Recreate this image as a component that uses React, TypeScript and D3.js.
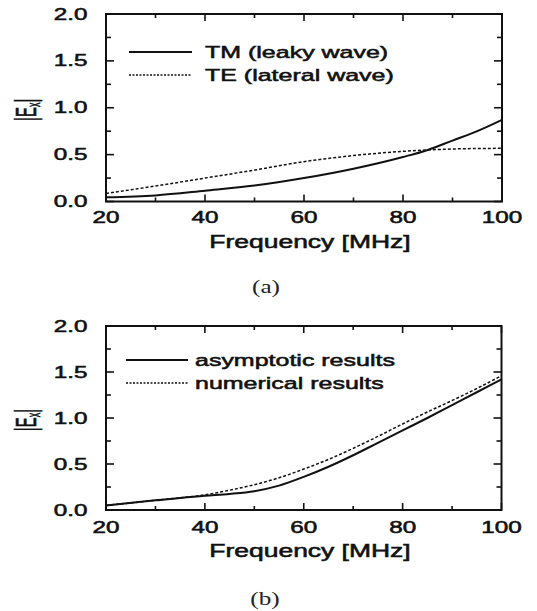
import React, { useEffect, useRef } from "react";
import * as d3 from "d3";

// panel (a)
const freqA = [20, 30, 40, 50, 60, 70, 80, 85, 90, 95, 100];
const tmA = [0.045, 0.065, 0.115, 0.17, 0.25, 0.35, 0.475, 0.55, 0.65, 0.75, 0.87];
const teA = [0.085, 0.165, 0.25, 0.335, 0.425, 0.49, 0.535, 0.55, 0.56, 0.565, 0.567];

// panel (b)
const freqB = [20, 30, 40, 45, 50, 55, 60, 65, 70, 75, 80, 85, 90, 95, 100];
const asymB = [0.05, 0.105, 0.155, 0.175, 0.205, 0.265, 0.36, 0.47, 0.595, 0.73, 0.865, 1.0, 1.14, 1.28, 1.42];
const numB = [0.05, 0.105, 0.165, 0.215, 0.275, 0.35, 0.445, 0.55, 0.67, 0.8, 0.935, 1.065, 1.19, 1.32, 1.46];

const xTicks = [20, 40, 60, 80, 100];
const xMinor = [30, 50, 70, 90];
const yTicks = [0, 0.5, 1.0, 1.5, 2.0];
const yMinor = [0.25, 0.75, 1.25, 1.75];

const SX = 1.47; // scan is stretched sideways, text too
const FONT = "'Liberation Sans', Arial, sans-serif";

type Series = { label: string; values: number[]; dash: string | null };

type PanelOpts = {
  left: number;
  right: number;
  top: number;
  bottom: number;
  freq: number[];
  series: Series[];
  legendY: number[];
  legendX: [number, number, number];
  tickY: number;
  titleY: number;
  caption: string;
  captionX: number;
  captionY: number;
};

const panels: PanelOpts[] = [
  {
    left: 106, right: 502, top: 14, bottom: 201.5,
    freq: freqA,
    series: [
      { label: "TM (leaky wave)", values: tmA, dash: null },
      { label: "TE (lateral wave)", values: teA, dash: "3,2" },
    ],
    legendY: [52, 75],
    legendX: [129, 192, 205],
    tickY: 223,
    titleY: 248,
    caption: "(a)",
    captionX: 266,
    captionY: 293,
  },
  {
    left: 106, right: 501.5, top: 326, bottom: 510,
    freq: freqB,
    series: [
      { label: "asymptotic results", values: asymB, dash: null },
      { label: "numerical results", values: numB, dash: "3,2" },
    ],
    legendY: [360, 383],
    legendX: [126, 188, 195],
    tickY: 533,
    titleY: 557,
    caption: "(b)",
    captionX: 265,
    captionY: 605,
  },
];

const wideText = (g, str, x, y, size, anchor) =>
  g
    .append("text")
    .attr("transform", `translate(${x},${y}) scale(${SX},1)`)
    .attr("text-anchor", anchor)
    .attr("font-family", FONT)
    .attr("font-size", size)
    .attr("fill", "#111")
    .attr("stroke", "#111")
    .attr("stroke-width", 0.55)
    .text(str);

const drawPanel = (svg, p: PanelOpts) => {
  const g = svg.append("g");
  const x = d3.scaleLinear().domain([20, 100]).range([p.left, p.right]);
  const y = d3.scaleLinear().domain([0, 2]).range([p.bottom, p.top]);

  // ticks, inward on all four sides
  const tick = (v, len, horiz) => {
    if (horiz) {
      g.append("line").attr("x1", x(v)).attr("x2", x(v)).attr("y1", p.bottom).attr("y2", p.bottom - len);
      g.append("line").attr("x1", x(v)).attr("x2", x(v)).attr("y1", p.top).attr("y2", p.top + len);
    } else {
      g.append("line").attr("x1", p.left).attr("x2", p.left + len).attr("y1", y(v)).attr("y2", y(v));
      g.append("line").attr("x1", p.right).attr("x2", p.right - len).attr("y1", y(v)).attr("y2", y(v));
    }
  };
  xTicks.forEach((v) => tick(v, 7, true));
  xMinor.forEach((v) => tick(v, 4, true));
  yTicks.forEach((v) => tick(v, 8, false));
  yMinor.forEach((v) => tick(v, 5, false));
  g.selectAll("line").attr("stroke", "#111").attr("stroke-width", 1.6);

  g.append("rect")
    .attr("x", p.left)
    .attr("y", p.top)
    .attr("width", p.right - p.left)
    .attr("height", p.bottom - p.top)
    .attr("fill", "none")
    .attr("stroke", "#111")
    .attr("stroke-width", 2);

  xTicks.forEach((v) => wideText(g, String(v), x(v), p.tickY, 16.5, "middle"));
  yTicks.forEach((v) => wideText(g, v.toFixed(1), 87.5, y(v) + 5.5, 16.5, "end"));

  wideText(g, "Frequency [MHz]", 310, p.titleY, 18, "middle");

  // |E_x| label, tall glyphs
  const lab = g
    .append("text")
    .attr("transform", `translate(36,${(p.top + p.bottom) / 2 + 2}) rotate(-90) scale(1,2)`)
    .attr("text-anchor", "middle")
    .attr("font-family", FONT)
    .attr("font-size", 15)
    .attr("fill", "#111")
    .attr("stroke", "#111")
    .attr("stroke-width", 0.3);
  lab.append("tspan").text("|E");
  lab.append("tspan").attr("font-size", 9).attr("dy", 2).text("x");
  lab.append("tspan").attr("dy", -2).text("|");

  const line = d3
    .line<number>()
    .x((d, i) => x(p.freq[i]))
    .y((d) => y(d))
    .curve(d3.curveMonotoneX);

  p.series.forEach((s, i) => {
    g.append("path")
      .attr("d", line(s.values))
      .attr("fill", "none")
      .attr("stroke", "#111")
      .attr("stroke-width", s.dash ? 1.5 : 2)
      .attr("stroke-dasharray", s.dash);

    const ly = p.legendY[i];
    g.append("line")
      .attr("x1", p.legendX[0])
      .attr("x2", p.legendX[1])
      .attr("y1", ly)
      .attr("y2", ly)
      .attr("stroke", "#111")
      .attr("stroke-width", s.dash ? 1.5 : 2)
      .attr("stroke-dasharray", s.dash ? "2,1.5" : null);
    wideText(g, s.label, p.legendX[2], ly + 6, 17, "start");
  });

  g.append("text")
    .attr("transform", `translate(${p.captionX},${p.captionY}) scale(1.4,1)`)
    .attr("text-anchor", "middle")
    .attr("font-family", "'Liberation Serif', 'DejaVu Serif', serif")
    .attr("font-size", 18)
    .attr("fill", "#222")
    .text(p.caption);
};

const App = () => {
  const ref = useRef<SVGSVGElement>(null);

  useEffect(() => {
    const svg = d3.select(ref.current);
    svg.selectAll("*").remove();
    svg.append("rect").attr("width", 537).attr("height", 611).attr("fill", "#fff");
    panels.forEach((p) => drawPanel(svg, p));
  });

  return (
    <svg
      ref={ref}
      width={537}
      height={611}
      style={{ position: "absolute", left: 0, top: 0 }}
    />
  );
};

export default App;
